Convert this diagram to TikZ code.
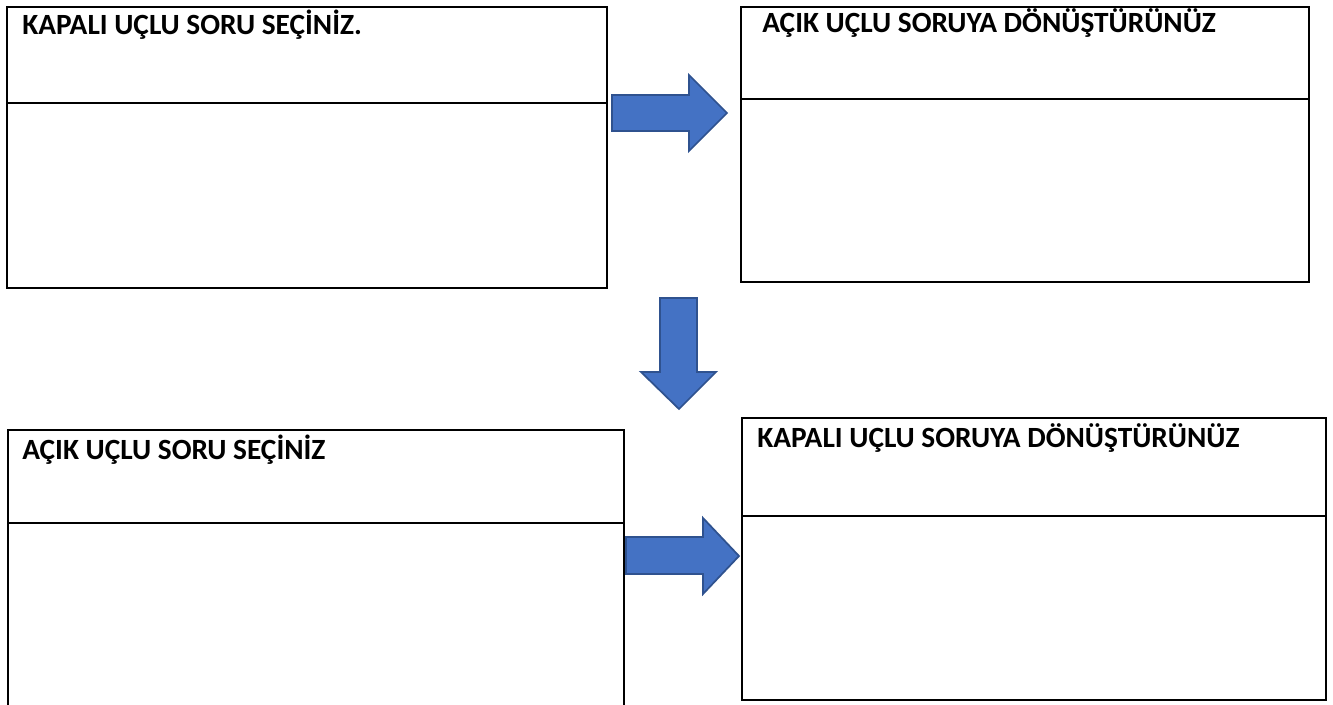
\documentclass[tikz,border=0pt]{standalone}
\usepackage{fontspec}
\setmainfont{Carlito}
\begin{document}
\begin{tikzpicture}[x=0.75pt,y=-0.75pt,
  boxline/.style={draw=black,line width=2pt},
  blockarrow/.style={fill=arrowblue,draw=arrowedge,line width=1.3pt,line join=miter},
  title/.style={anchor=base west,inner sep=0pt,font=\fontsize{22}{26}\selectfont\bfseries}]
\definecolor{arrowblue}{HTML}{4472C4}
\definecolor{arrowedge}{HTML}{2F528F}
\useasboundingbox (0,0) rectangle (1333,704);
\clip (0,0) rectangle (1333,704);
% Box 1
\draw[boxline] (7,7) rectangle (607,288);
\draw[boxline] (7,103) -- (607,103);
\node[title] (t1) at (22,34) {KAPALI UÇLU SORU SEÇİNİZ.};
% Box 2
\draw[boxline] (741,7) rectangle (1309,282);
\draw[boxline] (741,99) -- (1309,99);
\node[title] (t2) at (762,32) {AÇIK UÇLU SORUYA DÖNÜŞTÜRÜNÜZ};
% Box 3 (bottom cut off)
\draw[boxline] (8,712) -- (8,430) -- (624,430) -- (624,712);
\draw[boxline] (8,523) -- (624,523);
\node[title] (t3) at (22,459) {AÇIK UÇLU SORU SEÇİNİZ};
% Box 4
\draw[boxline] (742,418) rectangle (1326,700);
\draw[boxline] (742,516) -- (1326,516);
\node[title] (t4) at (757,447) {KAPALI UÇLU SORUYA DÖNÜŞTÜRÜNÜZ};
% Arrow 1 (right)
\draw[blockarrow] (612,95) -- (689,95) -- (689,75) -- (727,113) -- (689,151) -- (689,131) -- (612,131) -- cycle;
% Arrow 2 (down)
\draw[blockarrow] (660,298) -- (697,298) -- (697,372) -- (716,372) -- (679,409) -- (641,372) -- (660,372) -- cycle;
% Arrow 3 (right)
\draw[blockarrow] (626,537) -- (703,537) -- (703,518) -- (739,556) -- (703,594) -- (703,574) -- (626,574) -- cycle;
\end{tikzpicture}
\end{document}
